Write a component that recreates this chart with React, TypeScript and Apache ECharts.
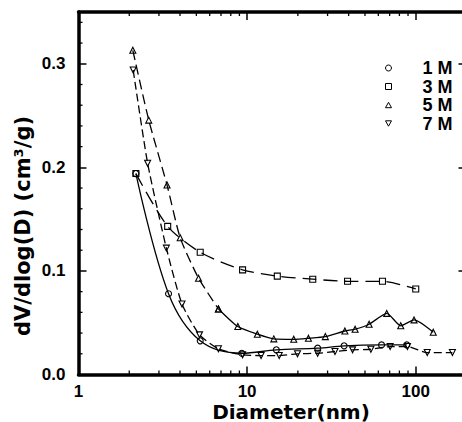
import React, { useEffect, useRef } from "react";
import * as echarts from "echarts";

// ---- data ----
const diam1M = [2.19, 3.42, 5.27, 9.3, 14.9, 26.2, 37.6, 62.7, 88.5];
const vol1M = [0.194, 0.078, 0.0325, 0.0205, 0.0238, 0.0254, 0.0277, 0.0286, 0.0286];

const diam3M = [2.19, 3.38, 5.27, 9.4, 15.1, 24.5, 39.4, 63.5, 100];
const vol3M = [0.194, 0.143, 0.118, 0.101, 0.095, 0.092, 0.09, 0.09, 0.0826];

const diam5M = [2.1, 2.61, 3.35, 4.01, 5.15, 6.76, 8.81, 11.5, 14.4, 18.9, 23.1, 29.1, 38.0, 43.7, 52.9, 67.3, 81.5, 97.7, 127];
const vol5M = [0.313, 0.2456, 0.183, 0.132, 0.093, 0.0633, 0.0463, 0.0389, 0.0344, 0.034, 0.035, 0.0366, 0.042, 0.0437, 0.0485, 0.059, 0.047, 0.0527, 0.0408];
const dashEnd5M = 6; // first 6 points drawn dashed, rest solid

const diam7M = [2.11, 2.57, 3.32, 4.11, 5.22, 6.76, 9.4, 12.1, 15.5, 19.9, 26.2, 33.2, 42.2, 54.2, 70.5, 89.3, 117, 165];
const vol7M = [0.294, 0.204, 0.122, 0.068, 0.0383, 0.0248, 0.019, 0.0183, 0.0183, 0.02, 0.0205, 0.0222, 0.0238, 0.0244, 0.027, 0.027, 0.0212, 0.0212];

const seriesNames = ["1 M", "3 M", "5 M", "7 M"];
const xMinorTicks = [2, 3, 4, 5, 6, 7, 8, 9, 20, 30, 40, 50, 60, 70, 80, 90];
const yMinorTicks = [0.02, 0.04, 0.06, 0.08, 0.12, 0.14, 0.16, 0.18, 0.22, 0.24, 0.26, 0.28, 0.32, 0.34];
const xMin = 1;
const xMax = 200;
const yMin = 0;
const yMax = 0.35;

const zip = (xs: number[], ys: number[]) => xs.map((x, i) => [x, ys[i]]);

const TRI_UP = "path://M5,0 L10,9 L0,9 Z";
const TRI_DOWN = "path://M0,0 L10,0 L5,9 Z";

export default function App() {
  const ref = useRef<HTMLDivElement>(null);
  useEffect(() => {
    if (!ref.current) return;
    const chart = echarts.init(ref.current, undefined, { renderer: "svg" });
    const black = "#000";
    const markerStyle = { color: "rgba(0,0,0,0)", borderColor: black, borderWidth: 1.1 };
    const labelFont = { color: black, fontSize: 17, fontWeight: "bold" as const, fontFamily: "Liberation Sans" };
    const axisLine = { show: true, onZero: false, lineStyle: { color: black, width: 3.5 } };
    const axisTick = { show: true, inside: true, length: 8, lineStyle: { color: black, width: 1.5 } };
    const isPow10 = (v: number) => Math.abs(Math.log10(v) - Math.round(Math.log10(v))) < 1e-6;

    const lineSeries = (name: string, data: number[][], symbol: string, dash: any, smooth: number) => ({
      type: "line",
      name,
      data,
      symbol,
      symbolSize: 6,
      smooth,
      xAxisIndex: 0,
      yAxisIndex: 0,
      itemStyle: markerStyle,
      lineStyle: { color: black, width: 1.3, type: dash },
      emphasis: { disabled: true },
      z: 3,
    });

    const option: any = {
      animation: false,
      backgroundColor: "#fff",
      grid: { left: 78.5, top: 12, right: 13.5, bottom: 47.5, containLabel: false },
      xAxis: [
        {
          type: "log",
          logBase: 10,
          min: xMin,
          max: xMax,
          position: "bottom",
          axisLine,
          axisTick,
          splitLine: { show: false },
          axisLabel: {
            ...labelFont,
            margin: 9,
            lineHeight: 15,
            showMaxLabel: false,
            formatter: (v: number) => (isPow10(v) ? String(Math.round(v)) : ""),
          },
        },
        {
          type: "log",
          logBase: 10,
          min: xMin,
          max: xMax,
          position: "top",
          axisLine,
          axisTick,
          splitLine: { show: false },
          axisLabel: { show: false },
        },
      ],
      yAxis: [
        {
          type: "value",
          min: yMin,
          max: yMax,
          interval: 0.1,
          position: "left",
          axisLine,
          axisTick,
          splitLine: { show: false },
          axisLabel: {
            ...labelFont,
            margin: 13,
            formatter: (v: number) => (v > 0.31 ? "" : v.toFixed(1)),
          },
        },
        {
          type: "value",
          min: yMin,
          max: yMax,
          interval: 0.1,
          position: "right",
          axisLine,
          axisTick,
          splitLine: { show: false },
          axisLabel: { show: false },
        },
      ],
      legend: {
        data: [
          { name: seriesNames[0], icon: "circle" },
          { name: seriesNames[1], icon: "rect" },
          { name: seriesNames[2], icon: TRI_UP },
          { name: seriesNames[3], icon: TRI_DOWN },
        ],
        orient: "vertical",
        left: 380,
        top: 54,
        itemWidth: 6,
        itemHeight: 6,
        itemGap: 0.5,
        selectedMode: false,
        itemStyle: { color: "rgba(0,0,0,0)", borderColor: black, borderWidth: 1 },
        textStyle: {
          ...labelFont,
          fontSize: 18,
          fontWeight: 900,
          lineHeight: 13,
          padding: [0, 0, 0, 26],
        },
      },
      graphic: [
        {
          type: "text",
          x: 291,
          y: 411.5,
          style: {
            text: "Diameter(nm)",
            fill: black,
            font: "bold 20px 'DejaVu Sans'",
            lineHeight: 16,
            align: "center",
            verticalAlign: "middle",
          },
        },
        {
          type: "text",
          x: 23,
          y: 226,
          rotation: Math.PI / 2,
          style: {
            text: "dV/dlog(D) (cm³/g)",
            fill: black,
            font: "bold 21px 'DejaVu Sans'",
            align: "center",
            verticalAlign: "middle",
          },
        },
      ],
      series: [
        lineSeries(seriesNames[0], zip(diam1M, vol1M), "circle", "solid", 0.35),
        lineSeries(seriesNames[1], zip(diam3M, vol3M), "rect", [14, 7], 0.25),
        lineSeries(seriesNames[2], zip(diam5M, vol5M).slice(0, dashEnd5M), TRI_UP, [10, 5], 0.2),
        lineSeries("5 M (cont.)", zip(diam5M, vol5M).slice(dashEnd5M - 1), TRI_UP, "solid", 0.2),
        lineSeries(seriesNames[3], zip(diam7M, vol7M), TRI_DOWN, [8, 4], 0.2),
        {
          type: "custom",
          name: "minor ticks",
          coordinateSystem: "cartesian2d",
          xAxisIndex: 0,
          yAxisIndex: 0,
          clip: false,
          silent: true,
          data: [[xMin, yMin]],
          renderItem: (_params: any, api: any) => {
            const children: any[] = [];
            const st = { stroke: black, lineWidth: 1.3 };
            const L = 4;
            xMinorTicks.forEach((x) => {
              const b = api.coord([x, yMin]);
              const t = api.coord([x, yMax]);
              children.push({ type: "line", shape: { x1: b[0], y1: b[1], x2: b[0], y2: b[1] - L }, style: st });
              children.push({ type: "line", shape: { x1: t[0], y1: t[1], x2: t[0], y2: t[1] + L }, style: st });
            });
            yMinorTicks.forEach((y) => {
              const l = api.coord([xMin, y]);
              const r = api.coord([xMax, y]);
              children.push({ type: "line", shape: { x1: l[0], y1: l[1], x2: l[0] + L, y2: l[1] }, style: st });
              children.push({ type: "line", shape: { x1: r[0], y1: r[1], x2: r[0] - L, y2: r[1] }, style: st });
            });
            return { type: "group", children };
          },
          z: 2,
        },
      ],
    };
    chart.setOption(option);
    return () => chart.dispose();
  }, []);

  return (
    <div style={{ position: "fixed", left: 0, top: 0, width: 462, height: 422, overflow: "hidden", background: "#fff" }}>
      <div ref={ref} style={{ width: 480, height: 422 }} />
    </div>
  );
}
